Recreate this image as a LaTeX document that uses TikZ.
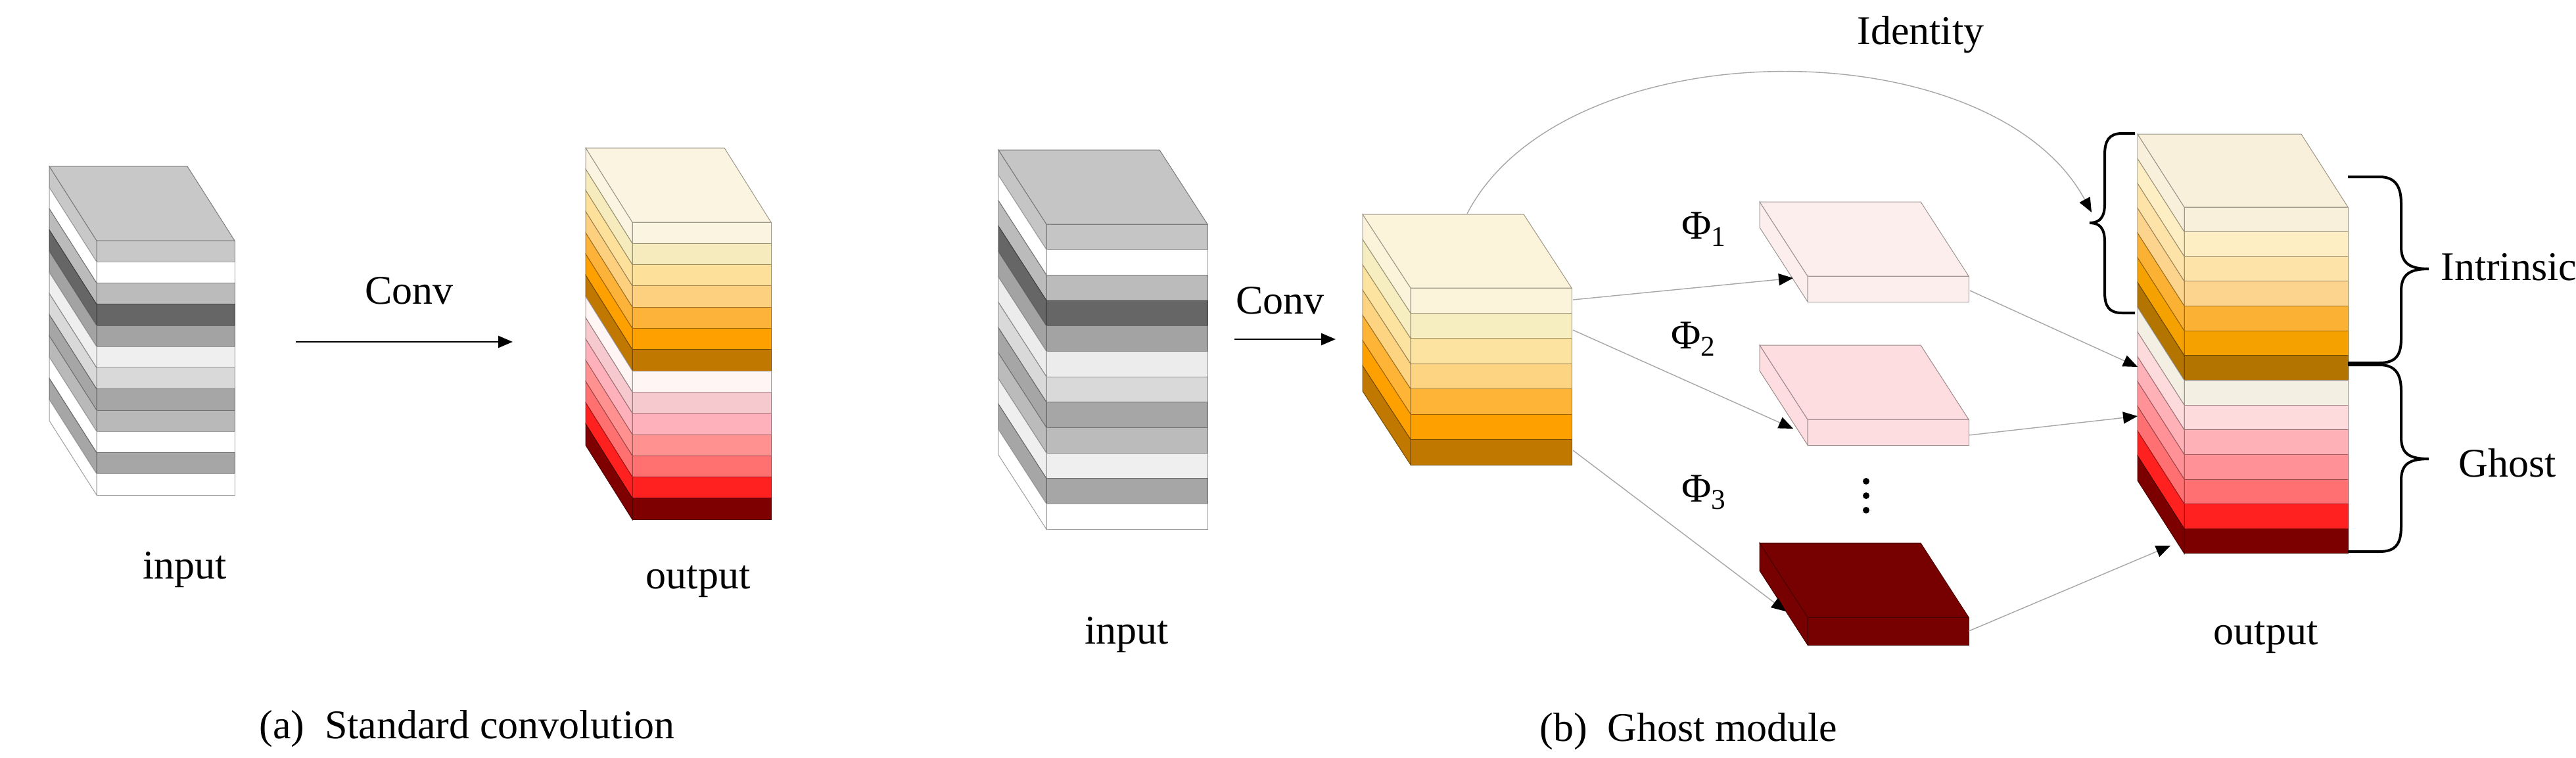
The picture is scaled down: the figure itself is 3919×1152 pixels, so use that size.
\documentclass[tikz,border=0pt]{standalone}
\usepackage{fontspec}
\setmainfont{Liberation Serif}
\usetikzlibrary{arrows.meta}
\newcommand\mystack[7]{%
 \foreach \c [count=\i from 0] in {#7}{
   \definecolor{lc}{HTML}{\c}
   \pgfmathsetmacro\ya{#2+\i*#6}
   \pgfmathsetmacro\yb{#2+(\i+1)*#6}
   \filldraw[stk,fill=lc,draw=lc!62!black] (#1,\ya) rectangle (#1+#3,\yb);
   \filldraw[stk,fill=lc,draw=lc!62!black] (#1,\ya) -- (#1,\yb) -- (#1-#4,\yb-#5) -- (#1-#4,\ya-#5) -- cycle;
   \ifnum\i=0 \filldraw[stk,fill=lc,draw=lc!62!black] (#1,#2) -- (#1+#3,#2) -- (#1+#3-#4,#2-#5) -- (#1-#4,#2-#5) -- cycle; \fi
 }}
\begin{document}
\begin{tikzpicture}[x=0.5pt,y=-0.5pt,
  stk/.style={line width=0.5pt},
  lbl/.style={font=\fontsize{31}{36}\selectfont, inner sep=0pt},
  conv/.style={line width=1.3pt,-{Triangle[length=11pt,width=9pt]}},
  link/.style={draw=black!35,line width=0.7pt,-{Triangle[length=11pt,width=9pt,color=black]}},
  brace/.style={line width=2pt}]
\useasboundingbox (0,0) rectangle (3919,1152);
% (a)
\mystack{147}{366}{210}{72}{113}{32.25}{C8C8C8,FFFFFF,BBBBBB,666666,A3A3A3,EFEFEF,D9D9D9,A6A6A6,B9B9B9,FFFFFF,A6A6A6,FFFFFF}
\mystack{962}{338}{211}{71}{113}{32.3}{FBF4E0,F5EBBD,FDE09A,FDD07F,FDB33A,FEA100,C07800,FFF5F5,F5C9CD,FFB1BB,FF9191,FF7070,FF2020,7F0000}
\coordinate (ca1) at (450,520); \coordinate (ca2) at (780,520);
\draw[conv] (ca1) -- (ca2);
\node[lbl,anchor=base west] (cva) at (555,462) {Conv};
\node[lbl,anchor=base] (ina) at (281,880) {input};
\node[lbl,anchor=base] (outa) at (1062,895) {output};
\node[lbl,anchor=base west] (capa) at (394,1123) {(a)\ \ Standard convolution};
% (b)
\mystack{1592}{341}{245}{73}{113}{38.67}{C5C5C5,FFFFFF,BBBBBB,666666,A3A3A3,ECECEC,D9D9D9,A6A6A6,BBBBBB,EFEFEF,A6A6A6,FFFFFF}
\coordinate (cb1) at (1878,516); \coordinate (cb2) at (2032,516);
\draw[conv] (cb1) -- (cb2);
\node[lbl,anchor=base west] (cvb) at (1880,477) {Conv};
\node[lbl,anchor=base] (inb) at (1714,979) {input};
\mystack{2146}{438}{245}{73}{112}{38.43}{FBF4DA,F6EDC0,FDE3A0,FDD482,FDB437,FEA000,C07800}
\mystack{2750}{420}{245}{73}{113}{39}{FDEEEE}
\mystack{2750}{638}{245}{73}{113}{39}{FDDDE0}
\mystack{2750}{939}{245}{73}{113}{42}{770000}
\mystack{3323}{315}{249}{71}{111}{37.64}{F9F0DC,FDEEC4,FDE3A7,FDD48D,FBB134,F5A200,B37400,F3EFE3,FDDADC,FEB2B8,FF9197,FF7073,FF2020,7D0000}
% labels
\node[lbl,anchor=base west] (p1) at (2558,363) {Φ\textsubscript{1}};
\node[lbl,anchor=base west] (p2) at (2542,530) {Φ\textsubscript{2}};
\node[lbl,anchor=base west] (p3) at (2558,763) {Φ\textsubscript{3}};
\foreach \yy in {732,754,776} \fill (2839,\yy) circle (5);
\node[lbl,anchor=base west] (idl) at (2825,67) {Identity};
\node[lbl,anchor=base west] (intl) at (3713,426) {Intrinsic};
\node[lbl,anchor=base west] (ghl) at (3740,725) {Ghost};
\node[lbl,anchor=base] (outb) at (3447,980) {output};
\node[lbl,anchor=base west] (capb) at (2342,1127) {(b)\ \ Ghost module};
% connectors
\coordinate (s0) at (2232,325); \coordinate (idt) at (3182,323);
\draw[link] (s0) .. controls (2380,40) and (3030,40) .. (idt);
\coordinate (s1) at (2393,456); \coordinate (t1) at (2728,423);
\coordinate (s2) at (2393,502); \coordinate (t2) at (2728,652);
\coordinate (s3) at (2393,685); \coordinate (t3) at (2717,930);
\draw[link] (s1) -- (t1); \draw[link] (s2) -- (t2); \draw[link] (s3) -- (t3);
\coordinate (g1) at (2997,442); \coordinate (h1) at (3252,558);
\coordinate (g2) at (2995,662); \coordinate (h2) at (3252,633);
\coordinate (g3) at (2995,960); \coordinate (h3) at (3302,830);
\draw[link] (g1) -- (h1); \draw[link] (g2) -- (h2); \draw[link] (g3) -- (h3);
% braces
\draw[brace] (3248,203) -- (3228,203) .. controls (3208,203) and (3202,215) .. (3202,235) -- (3202,310) .. controls (3202,330) and (3195,339) .. (3179,339)
  .. controls (3195,339) and (3202,348) .. (3202,368) -- (3202,445) .. controls (3202,465) and (3208,476) .. (3228,476) -- (3248,476);
\draw[brace] (3572,269) -- (3620,269) .. controls (3645,269) and (3653,285) .. (3653,310) -- (3653,375) .. controls (3653,400) and (3665,409) .. (3695,409)
  .. controls (3665,409) and (3653,418) .. (3653,443) -- (3653,515) .. controls (3653,540) and (3645,552) .. (3620,552) -- (3572,552);
\draw[brace] (3572,555) -- (3620,555) .. controls (3645,555) and (3653,570) .. (3653,595) -- (3653,665) .. controls (3653,690) and (3665,698) .. (3695,698)
  .. controls (3665,698) and (3653,706) .. (3653,731) -- (3653,800) .. controls (3653,827) and (3645,839) .. (3620,839) -- (3572,839);
\end{tikzpicture}
\end{document}
